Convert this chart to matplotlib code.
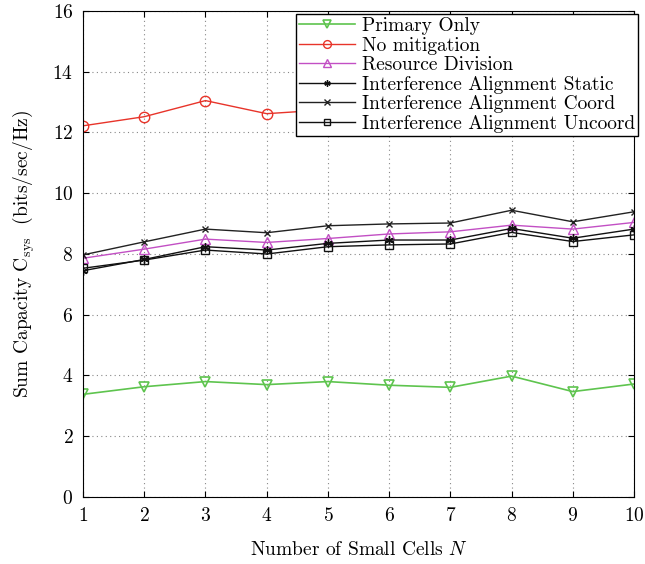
import matplotlib
matplotlib.use('Agg')
import matplotlib.pyplot as plt
import numpy as np

plt.rcParams['font.family'] = 'serif'
plt.rcParams['font.serif'] = ['cmr10', 'DejaVu Serif']
plt.rcParams['mathtext.fontset'] = 'cm'
plt.rcParams['axes.formatter.use_mathtext'] = True

n_cells = [1, 2, 3, 4, 5, 6, 7, 8, 9, 10]
primary_only = [3.38, 3.63, 3.80, 3.70, 3.80, 3.68, 3.61, 3.98, 3.47, 3.72]
no_mitigation = [12.22, 12.52, 13.05, 12.62, 12.75, 12.85, 12.9, 13.0, 12.95, 13.18]
resource_div = [7.86, 8.16, 8.49, 8.38, 8.51, 8.66, 8.73, 8.95, 8.82, 9.04]
ia_static = [7.45, 7.82, 8.24, 8.13, 8.35, 8.46, 8.46, 8.84, 8.52, 8.82]
ia_coord = [7.97, 8.40, 8.82, 8.70, 8.93, 8.99, 9.02, 9.44, 9.06, 9.39]
ia_uncoord = [7.53, 7.80, 8.13, 8.00, 8.24, 8.30, 8.33, 8.71, 8.41, 8.63]

fig = plt.figure(figsize=(6.45, 5.64), dpi=100)
ax = fig.add_axes([0.1287, 0.1188, 0.8543, 0.8617])

ms = 7.5
ax.plot(n_cells, primary_only, color='#5ec44e', marker='v', ms=ms, mfc='none', mew=1.2, lw=1.2, label='Primary Only')
ax.plot(n_cells, no_mitigation, color='#e8342a', marker='o', ms=ms, mfc='none', mew=1.0, lw=1.0, label='No mitigation')
ax.plot(n_cells, resource_div, color='#c24fc4', marker='^', ms=ms, mfc='none', mew=1.0, lw=1.0, label='Resource Division')
ax.plot(n_cells, ia_static, color='#111111', marker=(6, 2, 0), ms=6, mew=1.0, lw=1.0, label='Interference Alignment Static')
ax.plot(n_cells, ia_coord, color='#222222', marker='x', ms=5, mew=1.0, lw=1.0, label='Interference Alignment Coord')
ax.plot(n_cells, ia_uncoord, color='#111111', marker='s', ms=6, mfc='none', mew=1.0, lw=1.0, label='Interference Alignment Uncoord')

ax.set_xlim(1, 10)
ax.set_ylim(0, 16)
ax.set_xticks(n_cells)
ax.set_yticks(np.arange(0, 17, 2))
ax.tick_params(direction='in', top=True, right=True, labelsize=14, length=4, pad=7)
ax.grid(True, color='#888888', linestyle=(0, (1, 3)), lw=0.8)

ax.set_xlabel('Number of Small Cells $N$', fontsize=14, labelpad=12)
ax.set_ylabel(r'Sum Capacity C$_{\rm sys}$  (bits/sec/Hz)', fontsize=14, labelpad=11)

leg = ax.legend(loc='upper right', bbox_to_anchor=(0.989, 0.975), bbox_transform=fig.transFigure,
                fontsize=14, fancybox=False, framealpha=1, edgecolor='black',
                borderpad=0.15, labelspacing=0.08, handlelength=2.9, handletextpad=0.35,
                borderaxespad=0, markerscale=0.75)
leg.get_frame().set_linewidth(1.0)

fig.savefig('out.png', dpi=100)
